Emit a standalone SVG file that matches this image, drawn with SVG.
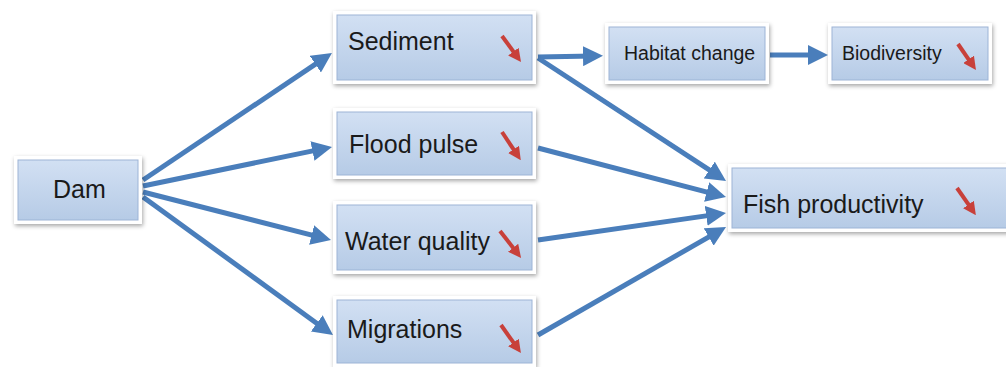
<svg xmlns="http://www.w3.org/2000/svg" width="1006" height="367" viewBox="0 0 1006 367">
<defs>
<linearGradient id="g" x1="0" y1="0" x2="0" y2="1">
<stop offset="0" stop-color="#D2E0F3"/>
<stop offset="1" stop-color="#B6CBE6"/>
</linearGradient>
<filter id="sh" x="-10%" y="-20%" width="120%" height="150%">
<feDropShadow dx="1" dy="2" stdDeviation="2" flood-color="#000" flood-opacity="0.35"/>
</filter>
<marker id="ab" viewBox="0 0 10 10" refX="5.2" refY="5" markerWidth="20" markerHeight="20" markerUnits="userSpaceOnUse" orient="auto">
<path d="M0,0 L10,5 L0,10 z" fill="#4A7EBB"/>
</marker>
<marker id="ar" viewBox="0 0 10 10" refX="4.9" refY="5" markerWidth="13" markerHeight="13" markerUnits="userSpaceOnUse" orient="auto">
<path d="M0,0 L10,5 L0,10 z" fill="#C8403A"/>
</marker>
</defs>
<style>
.outer{fill:#fff;filter:url(#sh)}
.box{fill:url(#g);stroke:#9DB4D6;stroke-width:1}
.t{font-family:"Liberation Sans",Arial,sans-serif;font-size:25px;fill:#1a1a1a}
.ts{font-family:"Liberation Sans",Arial,sans-serif;font-size:19.5px;fill:#1a1a1a}
.con line{stroke:#4A7EBB;stroke-width:5;fill:none;marker-end:url(#ab)}
.down{stroke:#C8403A;stroke-width:4;marker-end:url(#ar)}
</style>
<rect width="1006" height="367" fill="#fff"/>
<g id="connectors" class="con">
<line x1="143" y1="180" x2="324" y2="58.4"/>
<line x1="143" y1="186" x2="322.6" y2="148.9"/>
<line x1="143" y1="192" x2="321.7" y2="237.6"/>
<line x1="143" y1="197" x2="325.2" y2="329.4"/>
<line x1="538" y1="57" x2="593.4" y2="56"/>
<line x1="538" y1="58" x2="718" y2="175.7"/>
<line x1="538" y1="148" x2="716.7" y2="194.6"/>
<line x1="538" y1="240" x2="716.5" y2="214.4"/>
<line x1="538" y1="335" x2="717.7" y2="231.8"/>
<line x1="770" y1="55" x2="818.4" y2="55"/>
</g>
<g id="dam">
<rect class="outer" x="14" y="156" width="128" height="68"/>
<rect class="box" x="18" y="160" width="120" height="60"/>
<text class="t" x="53" y="198">Dam</text>
</g>
<g id="sediment">
<rect class="outer" x="333" y="11" width="203" height="73"/>
<rect class="box" x="337" y="15" width="195" height="65"/>
<text class="t" x="348" y="50">Sediment</text>
<line class="down" x1="502" y1="36" x2="517.1" y2="56.7"/>
</g>
<g id="flood-pulse">
<rect class="outer" x="333" y="108" width="203" height="71"/>
<rect class="box" x="337" y="112" width="195" height="63"/>
<text class="t" x="349" y="153">Flood pulse</text>
<line class="down" x1="502" y1="132" x2="517.1" y2="154.7"/>
</g>
<g id="water-quality">
<rect class="outer" x="333" y="201" width="203" height="73"/>
<rect class="box" x="337" y="205" width="195" height="65"/>
<text class="t" x="345" y="250">Water quality</text>
<line class="down" x1="500" y1="231" x2="517" y2="252.8"/>
</g>
<g id="migrations">
<rect class="outer" x="333" y="296" width="203" height="71"/>
<rect class="box" x="337" y="300" width="195" height="63"/>
<text class="t" x="347" y="338">Migrations</text>
<line class="down" x1="501" y1="325" x2="517.1" y2="347.7"/>
</g>
<g id="habitat-change">
<rect class="outer" x="605" y="23" width="164" height="61"/>
<rect class="box" x="609" y="27" width="156" height="53"/>
<text class="ts" x="624" y="60">Habitat change</text>
</g>
<g id="biodiversity">
<rect class="outer" x="828" y="23" width="164" height="61"/>
<rect class="box" x="832" y="27" width="156" height="53"/>
<text class="ts" x="842" y="60">Biodiversity</text>
<line class="down" x1="958" y1="44" x2="972.2" y2="64.6"/>
</g>
<g id="fish-productivity">
<rect class="outer" x="728" y="164" width="282" height="68"/>
<rect class="box" x="732" y="168" width="278" height="60"/>
<text class="t" x="743" y="213">Fish productivity</text>
<line class="down" x1="957" y1="188" x2="972.1" y2="209.7"/>
</g>
</svg>
